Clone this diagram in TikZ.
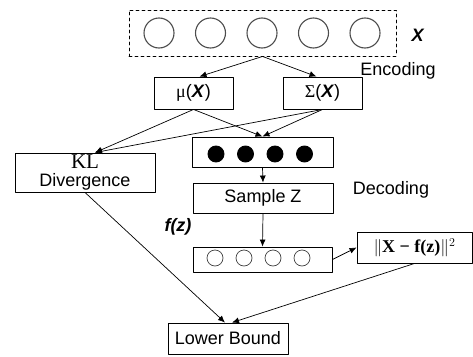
\documentclass[tikz,border=0pt]{standalone}
\usepackage{amsmath}
\usepackage{fontspec}
\setmainfont{Liberation Sans}
\newfontfamily\kltext{Liberation Serif}
\usepackage{tikz}
\usetikzlibrary{positioning, arrows.meta}

\begin{document}
\begin{tikzpicture}[x=1pt, y=-1pt, line cap=round, line join=round,
        every node/.style={font=\fontsize{18}{20}\selectfont, inner sep=0pt},
        blk/.style={draw, line width=0.9pt, minimum width=#1},
        blk/.default=140pt,
        unit/.style={circle, draw, line width=0.9pt, minimum size=#1},
        conn/.style={-{Latex[length=7pt, width=6pt]}, line width=0.7pt}]
        \useasboundingbox (0,0) rectangle (473,356);

        % input layer X
        \node[draw, dashed, line width=0.9pt, minimum width=267pt, minimum height=46pt] (xbox) at (262.5,33) {};
        \foreach \i in {0,...,4}
            \node[unit=30pt, draw=black!70, line width=1.1pt] (in\i) at (159+51.5*\i,33) {};
        \node (xlbl) at (418,35) {\textbf{\textit{X}}};
        \node (enc) at (398,71) {Encoding};

        % mean and variance
        \node[blk=79pt, minimum height=32pt] (mu) at (193.5,93) {{\kltext μ}(\textbf{\textit{X}})};
        \node[blk=79pt, minimum height=32pt] (sig) at (322.5,93) {{\kltext Σ}(\textbf{\textit{X}})};

        % KL term
        \node[blk, minimum height=39pt, align=center] (kl) at (85,172.5)
            {{\kltext\fontsize{21}{19}\selectfont KL}\\[-2pt]Divergence};

        % latent code
        \node[blk=141pt, minimum height=30pt] (lat) at (262.5,152) {};
        \foreach \i in {0,...,3}
            \node[unit=16pt, fill=black] (z\i) at (216+29.5*\i,154) {};
        \node[blk, minimum height=30pt] (samp) at (263,198) {Sample Z};
        \node (dec) at (391,190) {Decoding};

        % reconstruction
        \node (fz) at (178,227) {\textbf{\textit{f(z)}}};
        \node[blk=139pt, minimum height=25pt] (outs) at (262.5,259.5) {};
        \foreach \i in {0,...,3}
            \node[unit=16pt, draw=black!75, line width=0.7pt] (o\i) at (215+29*\i,258) {};
        \node[blk=115pt, minimum height=31pt] (rec) at (414.5,247.5)
            {$\|${\kltext\bfseries X − f(z)}$\|^2$};

        % objective
        \node[blk=120pt, minimum height=31pt] (lb) at (228,338.5) {Lower Bound};

        % connectors
        \draw[conn] (xbox.south) -- ([xshift=6pt]mu.north);
        \draw[conn] (xbox.south) -- ([xshift=-6pt]sig.north);
        \draw[conn] (mu.south) -- ([xshift=10pt]kl.north);
        \draw[conn] (sig.south) -- ([xshift=10pt]kl.north);
        \draw[conn] (mu.south) -- (lat.north);
        \draw[conn] (sig.south) -- (lat.north);
        \draw[conn] (lat.south) -- (samp.north);
        \draw[conn] (samp.south) -- (outs.north);
        \draw[conn] (outs.east) -- (rec.west);
        \draw[conn] (kl.south) -- ([xshift=-3pt]lb.north);
        \draw[conn] (rec.south) -- ([xshift=4pt]lb.north);
\end{tikzpicture}
\end{document}
